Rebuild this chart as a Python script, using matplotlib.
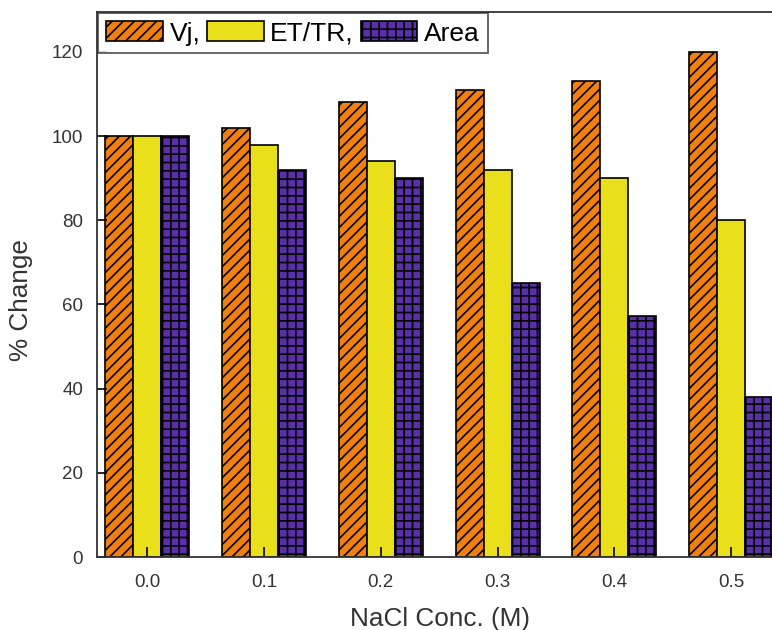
import numpy as np
import matplotlib
matplotlib.use("Agg")
import matplotlib.pyplot as plt

plt.rcParams['font.family'] = ['Liberation Sans', 'DejaVu Sans']
plt.rcParams['hatch.linewidth'] = 1.2

# Data
conc = [0.0, 0.1, 0.2, 0.3, 0.4, 0.5]
conc_labels = ['0.0', '0.1', '0.2', '0.3', '0.4', '0.5']
vj = [100, 102, 108, 111, 113, 120]
et_tr = [100, 98, 94, 92, 90, 80]
area = [100, 92, 90, 65, 57.3, 38]

fig = plt.figure(figsize=(7.72, 6.30), dpi=100)
ax = fig.add_axes([97 / 772, 73 / 630, 1 - 97 / 772, 545 / 630])

x = np.array(conc)
w = 0.024
ax.bar(x - w, vj, w, color='#F2800F', edgecolor='black', hatch='///',
       linewidth=1.2, label='Vj,')
ax.bar(x, et_tr, w, color='#E9E01B', edgecolor='black',
       linewidth=1.2, label='ET/TR,')
ax.bar(x + w, area, w, color='#5A30A8', edgecolor='black', hatch='++',
       linewidth=1.2, label='Area')

ax.set_xlim(-0.043, 0.535)
ax.set_ylim(0, 129.5)
ax.set_xticks(conc)
ax.set_xticklabels(conc_labels)
ax.set_yticks([0, 20, 40, 60, 80, 100, 120])
ax.tick_params(direction='in', length=7, width=1.2, labelsize=13.5,
               labelcolor='#333333', pad=10)
ax.tick_params(axis='x', pad=12)

for s in ['left', 'bottom', 'top']:
    ax.spines[s].set_linewidth(1.3)
    ax.spines[s].set_color('#333333')
ax.spines['right'].set_visible(False)

ax.set_xlabel('NaCl Conc. (M)', fontsize=18.8, color='#333333')
ax.set_ylabel('% Change', fontsize=18.8, color='#333333')
ax.xaxis.set_label_coords(0.508, -0.092)
ax.yaxis.set_label_coords(-0.095, 0.472)

leg = ax.legend(loc='upper left', ncol=3, fontsize=19, frameon=True,
                fancybox=False, borderaxespad=0.05, handlelength=2.15,
                handleheight=0.8, columnspacing=0.25, handletextpad=0.25,
                borderpad=0.3)
leg.get_frame().set_edgecolor('#333333')
leg.get_frame().set_linewidth(1.3)

plt.savefig('out.png', dpi=100)
